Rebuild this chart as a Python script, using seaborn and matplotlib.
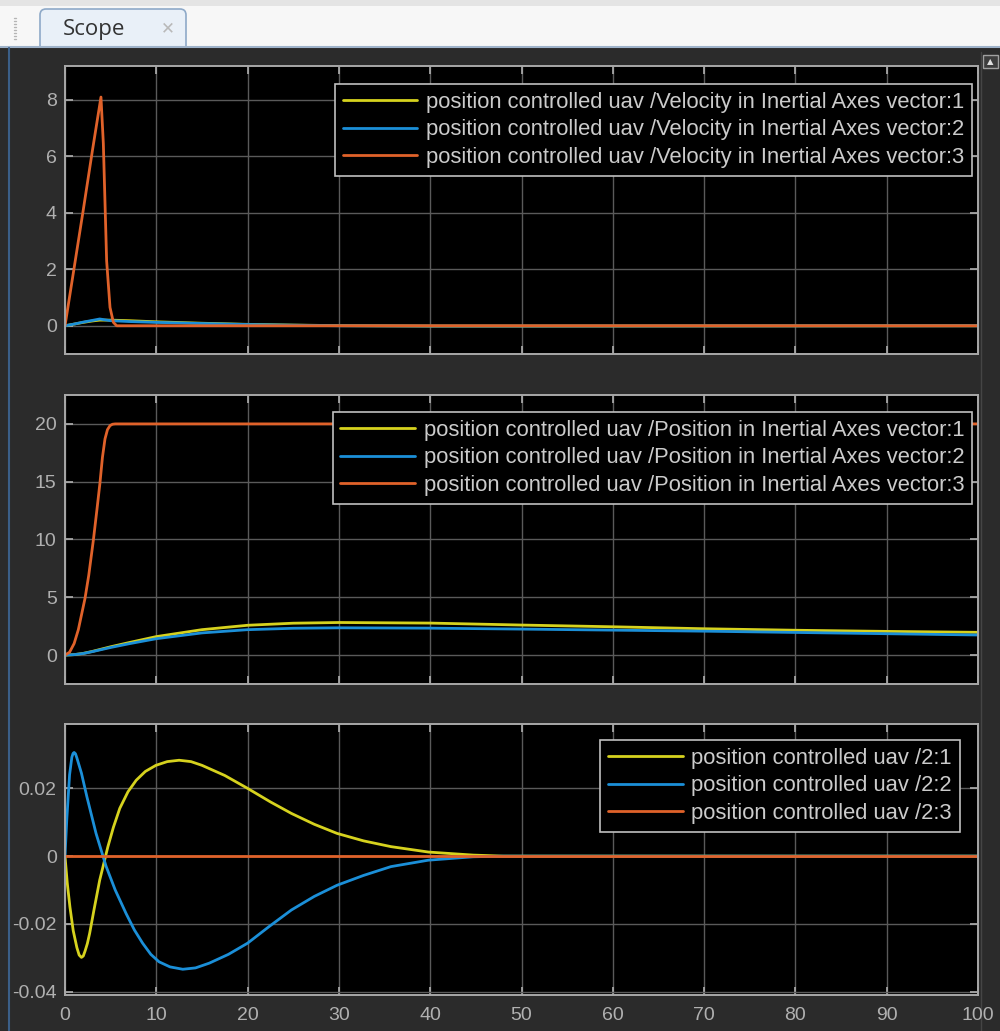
import matplotlib
matplotlib.use("Agg")
import matplotlib.pyplot as plt
from matplotlib.patches import Rectangle, FancyBboxPatch
import seaborn as sns
import pandas as pd

# ---- data ----
# panel 1: velocity in inertial axes
vel_t_xy = [0, 1, 2, 3, 3.8, 5, 7, 10, 15, 20, 25, 30, 40, 50, 100]
vel_1 = [0, 0.06, 0.12, 0.17, 0.2, 0.2, 0.18, 0.14, 0.09, 0.05, 0.025, 0.005, -0.01, -0.01, 0]
vel_2 = [0, 0.06, 0.13, 0.19, 0.24, 0.18, 0.15, 0.12, 0.08, 0.045, 0.02, 0.0, -0.01, -0.01, 0]
vel_t_z = [0, 1, 2, 3, 3.94, 4.2, 4.56, 4.93, 5.3, 5.66, 7, 100]
vel_3 = [0, 2.05, 4.1, 6.2, 8.1, 6.45, 2.3, 0.65, 0.12, 0.0, 0.0, 0.0]

# panel 2: position in inertial axes
pos_t_xy = [0, 1, 2, 3, 4, 5, 7, 10, 15, 20, 25, 30, 40, 50, 60, 70, 80, 90, 100]
pos_1 = [0, 0.04, 0.15, 0.32, 0.52, 0.72, 1.08, 1.6, 2.2, 2.58, 2.76, 2.82, 2.77, 2.6, 2.45, 2.28, 2.15, 2.05, 1.97]
pos_2 = [0, 0.04, 0.14, 0.3, 0.48, 0.66, 0.98, 1.42, 1.92, 2.2, 2.32, 2.36, 2.33, 2.25, 2.16, 2.07, 1.96, 1.85, 1.74]
pos_t_z = [0, 0.5, 1.0, 1.46, 2.19, 2.6, 3.1, 3.5, 3.83, 4.1, 4.38, 4.65, 4.93, 5.2, 5.5, 6, 100]
pos_3 = [0, 0.25, 1.0, 2.2, 4.9, 6.9, 9.9, 12.6, 14.9, 17.1, 18.7, 19.5, 19.85, 19.97, 20, 20, 20]

# panel 3: signal "/2"
sig_t_1 = [0, 0.25, 0.54, 0.9, 1.3, 1.55, 1.8, 2.0, 2.2, 2.45, 2.7, 3.2, 3.8, 4.7, 5.3, 6.0, 6.9,
           7.8, 8.8, 9.96, 11.2, 12.5, 13.8, 15, 17.5, 20, 22.5, 24.8, 27.3, 29.8, 32.7, 35.7,
           39.8, 44.7, 48, 100]
sig_1 = [0, -0.008, -0.015, -0.022, -0.027, -0.0292, -0.0299, -0.0295, -0.028, -0.0258, -0.0228,
         -0.0155, -0.0071, 0.0028, 0.0085, 0.0141, 0.019, 0.0224, 0.025, 0.0268, 0.0279, 0.0283,
         0.0279, 0.0268, 0.0238, 0.02, 0.016, 0.0126, 0.0094, 0.0067, 0.0045, 0.0028, 0.0012,
         0.0003, 0, 0]
sig_t_2 = [0, 0.2, 0.5, 0.75, 0.88, 1.0, 1.15, 1.3, 1.8, 2.4, 3.4, 4.5, 5.5, 6.7, 7.6, 8.5, 9.4,
           10.3, 11.5, 12.9, 14.3, 15.8, 17.9, 20, 22.4, 24.8, 27.3, 29.8, 32.7, 35.7, 39.8, 44.7,
           48, 100]
sig_2 = [0, 0.011, 0.024, 0.0292, 0.0303, 0.0306, 0.0302, 0.029, 0.0245, 0.0175, 0.0067, -0.003,
         -0.010, -0.017, -0.0218, -0.0257, -0.029, -0.0312, -0.0327, -0.0334, -0.033, -0.0316,
         -0.029, -0.0257, -0.0207, -0.0159, -0.0119, -0.0086, -0.0057, -0.0031, -0.0012, -0.0002,
         0, 0]
sig_t_3 = [0, 100]
sig_3 = [0, 0]

vel_labels = ["position controlled uav /Velocity in Inertial Axes vector:%d" % i for i in (1, 2, 3)]
pos_labels = ["position controlled uav /Position in Inertial Axes vector:%d" % i for i in (1, 2, 3)]
sig_labels = ["position controlled uav /2:%d" % i for i in (1, 2, 3)]

y_ticks_1 = [0, 2, 4, 6, 8]
y_ticks_2 = [0, 5, 10, 15, 20]
y_ticks_3 = [-0.04, -0.02, 0, 0.02]
y_ticklabels_3 = ["-0.04", "-0.02", "0", "0.02"]
x_ticks = [0, 10, 20, 30, 40, 50, 60, 70, 80, 90, 100]

colors = ["#d6d21e", "#1b8fd8", "#e0622a"]

# ---- style ----
sns.set_theme(style="dark")
plt.rcParams["font.family"] = ["Liberation Sans", "DejaVu Sans"]
plt.rcParams["axes.unicode_minus"] = False

W, H = 1000, 1031
fig = plt.figure(figsize=(W / 100, H / 100), dpi=100)
fig.patch.set_facecolor("#2b2b2b")

# window chrome drawn in pixel units
bg = fig.add_axes([0, 0, 1, 1], zorder=0)
bg.set_xlim(0, W)
bg.set_ylim(H, 0)
bg.axis("off")
bg.add_patch(Rectangle((0, 0), W, 48, facecolor="#f7f7f7", edgecolor="none"))
bg.add_patch(Rectangle((0, 0), W, 6, facecolor="#e4e4e4", edgecolor="none"))
bg.plot([0, W], [47, 47], color="#9fb3ca", lw=1.5)
bg.add_patch(FancyBboxPatch((40, 9), 146, 45, boxstyle="round,pad=0,rounding_size=6",
                            facecolor="#e9f0f8", edgecolor="#8ea9c8", lw=1.2))
bg.add_patch(Rectangle((0, 48), W, H - 48, facecolor="#2b2b2b", edgecolor="none"))
bg.plot([8.5, 8.5], [48, H], color="#3b5f88", lw=1.5)
for yy in range(18, 40, 3):
    bg.plot([14, 16], [yy, yy], color="#b5b5b5", lw=1)
bg.text(63, 29, "Scope", fontsize=16, color="#333333", va="center", ha="left",
        family=["Open Sans", "DejaVu Sans"])
bg.text(168, 28, "\u2715", fontsize=12, color="#b9b9b9", va="center", ha="center",
        family=["DejaVu Sans"])
bg.plot([981, 981], [52, H], color="#454545", lw=1)
bg.add_patch(Rectangle((983, 55), 15, 13, facecolor="#3d3d3d", edgecolor="#a0a0a0", lw=1))
bg.text(990.5, 62, "\u25b2", fontsize=6, color="#e0e0e0", ha="center", va="center",
        family=["DejaVu Sans"])

# plot axes in pixel boxes (left, top, right, bottom)
boxes = [(65, 66, 978, 354), (65, 395, 978, 684), (65, 724, 978, 995)]
axes = []
for (l, t, r, b) in boxes:
    ax = fig.add_axes([l / W, 1 - b / H, (r - l) / W, (b - t) / H], zorder=2)
    axes.append(ax)

panels = [
    (axes[0], [(vel_t_xy, vel_1), (vel_t_xy, vel_2), (vel_t_z, vel_3)], vel_labels,
     (-1.0, 9.2), y_ticks_1, None, (0.9934, 0.937)),
    (axes[1], [(pos_t_xy, pos_1), (pos_t_xy, pos_2), (pos_t_z, pos_3)], pos_labels,
     (-2.5, 22.5), y_ticks_2, None, (0.9934, 0.941)),
    (axes[2], [(sig_t_1, sig_1), (sig_t_2, sig_2), (sig_t_3, sig_3)], sig_labels,
     (-0.041, 0.039), y_ticks_3, y_ticklabels_3, (0.980, 0.941)),
]

for i, (ax, series, labels, ylim, yticks, ylabels, anchor) in enumerate(panels):
    ax.set_facecolor("black")
    for (tt, vv), c, lab in zip(series, colors, labels):
        df = pd.DataFrame({"t": tt, "v": vv})
        sns.lineplot(data=df, x="t", y="v", ax=ax, color=c, linewidth=2.0, label=lab,
                     estimator=None, sort=False)
    ax.set_xlim(0, 100)
    ax.set_ylim(*ylim)
    ax.set_xticks(x_ticks)
    ax.set_yticks(yticks)
    if ylabels is not None:
        ax.set_yticklabels(ylabels)
    if i < 2:
        ax.set_xticklabels([])
    ax.set_xlabel("")
    ax.set_ylabel("")
    ax.grid(True, color="#5a5a5a", linewidth=1.0)
    for s in ax.spines.values():
        s.set_color("#a8a8a8")
        s.set_linewidth(1.4)
        s.set_visible(True)
    ax.tick_params(axis="both", direction="in", length=6, width=1.2, color="#b0b0b0",
                   labelcolor="#b0b0b0", labelsize=14, top=True, right=True,
                   bottom=True, left=True, pad=6)
    ax.tick_params(axis="x", pad=9)
    leg = ax.legend(loc="upper right", bbox_to_anchor=anchor, borderaxespad=0,
                    frameon=True, fancybox=False, facecolor="black", edgecolor="#c0c0c0",
                    framealpha=1, fontsize=15.8, handlelength=3.4, handletextpad=0.4,
                    labelspacing=0.3, borderpad=0.35)
    leg.get_frame().set_linewidth(1.2)
    for txt in leg.get_texts():
        txt.set_color("#cbcbcb")

fig.savefig("out.png", dpi=100, facecolor=fig.get_facecolor())
